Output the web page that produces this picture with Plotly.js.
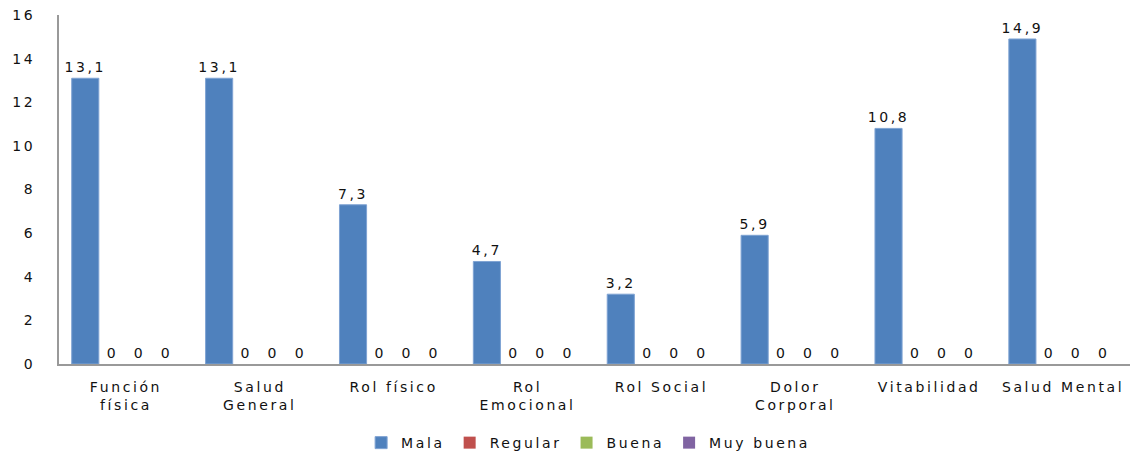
<!DOCTYPE html>
<html>
<head>
<meta charset="utf-8">
<script src="https://cdn.plot.ly/plotly-3.0.1.min.js"></script>
<style>html,body{margin:0;padding:0;background:#fff;}#chart{width:1131px;height:453px;}
svg text{letter-spacing:2.6px;}</style>
</head>
<body>
<div id="chart"></div>
<script>
const categories = ["Función<br>física", "Salud<br>General", "Rol físico", "Rol<br>Emocional", "Rol Social", "Dolor<br>Corporal", "Vitabilidad", "Salud Mental"];
const seriesNames = ["Mala", "Regular", "Buena", "Muy buena"];
const mala = [13.1, 13.1, 7.3, 4.7, 3.2, 5.9, 10.8, 14.9];
const regular = [0, 0, 0, 0, 0, 0, 0, 0];
const buena = [0, 0, 0, 0, 0, 0, 0, 0];
const muyBuena = [0, 0, 0, 0, 0, 0, 0, 0];
const yTicks = [0, 2, 4, 6, 8, 10, 12, 14, 16];

const colors = ["#4F81BD", "#C0504D", "#9BBB59", "#8064A2"];
const allSeries = [mala, regular, buena, muyBuena];
const fmt = v => String(v).replace('.', ',');

const traces = allSeries.map((vals, i) => ({
  type: 'bar',
  name: seriesNames[i],
  x: categories,
  y: vals,
  text: vals.map(fmt),
  textposition: 'outside',
  constraintext: 'none',
  cliponaxis: false,
  textfont: {family: 'DejaVu Sans', size: 14, color: '#111'},
  marker: {color: colors[i], line: {color: '#7fa3d3', width: i === 0 ? 1 : 0}},
  hoverinfo: 'none'
}));

const layout = {
  width: 1131, height: 453,
  margin: {l: 59, r: 1, t: 15, b: 89},
  paper_bgcolor: '#fff', plot_bgcolor: '#fff',
  font: {family: 'DejaVu Sans', size: 14, color: '#111'},
  barmode: 'group',
  bargap: 0.19,
  bargroupgap: 0,
  showlegend: true,
  legend: {orientation: 'h', x: 0.52, xanchor: 'center', xref: 'container', y: 0.022, yanchor: 'middle', yref: 'container', font: {size: 14}, traceorder: 'normal'},
  xaxis: {
    showline: true, linecolor: '#999', linewidth: 2,
    showgrid: false, zeroline: false, ticks: '',
    tickfont: {size: 14}, ticklabelstandoff: 9
  },
  yaxis: {
    range: [0, 16], tickvals: yTicks, ticktext: yTicks.map(String),
    showline: true, linecolor: '#999', linewidth: 2,
    showgrid: false, zeroline: false, ticks: '',
    tickfont: {size: 14}, ticklabelstandoff: 19
  }
};

Plotly.newPlot('chart', traces, layout, {staticPlot: true});
</script>
</body>
</html>
